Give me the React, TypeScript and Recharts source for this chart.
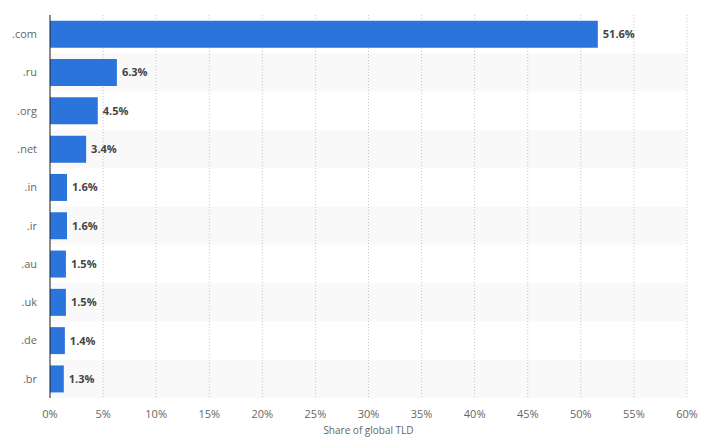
import React from "react";
import {
  BarChart,
  Bar,
  XAxis,
  YAxis,
  CartesianGrid,
  ReferenceArea,
  LabelList,
} from "recharts";

const categories = [".com", ".ru", ".org", ".net", ".in", ".ir", ".au", ".uk", ".de", ".br"];
const shares = [51.6, 6.3, 4.5, 3.4, 1.6, 1.6, 1.5, 1.5, 1.4, 1.3];
const xTicks = [0, 5, 10, 15, 20, 25, 30, 35, 40, 45, 50, 55, 60];
const axisTitle = "Share of global TLD";

const data = categories.map((c, i) => ({ name: c, value: shares[i] }));
const striped = categories.filter((_, i) => i % 2 === 1);

const FONT = "'Open Sans', 'DejaVu Sans', sans-serif";

export default function App() {
  return (
    <div style={{ fontFamily: FONT }}>
      <BarChart
        width={709}
        height={442}
        data={data}
        layout="vertical"
        margin={{ top: 7, right: 30, left: 0, bottom: 0 }}
        barCategoryGap="15%"
      >
        {striped.map((c) => (
          <ReferenceArea
            key={c}
            y1={c}
            y2={c}
            fill="#000"
            fillOpacity={0.025}
            stroke="none"
          />
        ))}
        <CartesianGrid
          horizontal={false}
          stroke="#c8c8c8"
          strokeDasharray="1 2"
        />
        <XAxis
          type="number"
          domain={[0, 60]}
          ticks={xTicks}
          interval={0}
          tickFormatter={(v: number) => `${v}%`}
          axisLine={false}
          tickLine={false}
          tickMargin={6}
          height={52}
          tick={{ fill: "#666", fontSize: 11, fontFamily: FONT }}
          label={{
            value: axisTitle,
            position: "insideBottom",
            offset: 16,
            fill: "#666",
            fontSize: 10,
            fontFamily: FONT,
          }}
        />
        <YAxis
          type="category"
          dataKey="name"
          width={42}
          tickLine={false}
          tickMargin={7}
          axisLine={{ stroke: "#222" }}
          tick={{ fill: "#666", fontSize: 11, fontFamily: FONT }}
        />
        <Bar dataKey="value" fill="#2a74dc" isAnimationActive={false}>
          <LabelList
            dataKey="value"
            position="right"
            offset={5}
            formatter={(v: number) => `${v}%`}
            style={{ fill: "#444", fontSize: 11, fontWeight: 700, fontFamily: FONT }}
          />
        </Bar>
      </BarChart>
    </div>
  );
}
